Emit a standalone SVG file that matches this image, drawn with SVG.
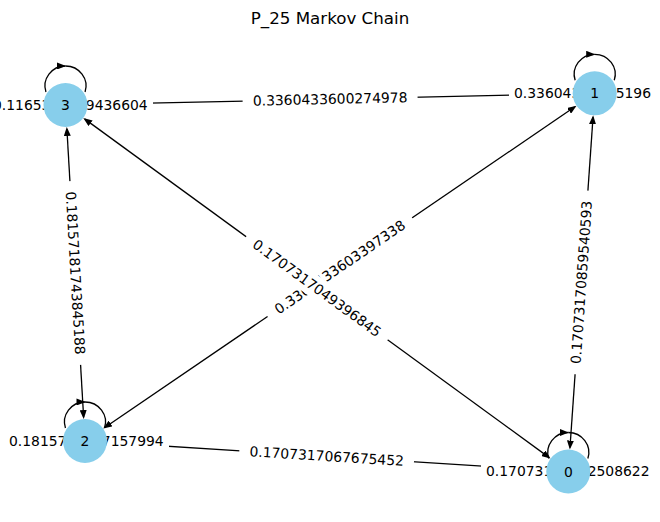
<svg xmlns="http://www.w3.org/2000/svg" width="660" height="522" viewBox="0 0 660 522">
<style>
.e{stroke:#000;stroke-width:1.3;fill:none}
.lb{fill:#fff;stroke:none}
text{font-family:"DejaVu Sans","Liberation Sans",sans-serif;font-size:13.9px;fill:#000}
.n circle{fill:#87CEEB}
.n text{text-anchor:middle}
.m text{text-anchor:middle}
</style>
<defs>
<marker id="a" viewBox="0 0 9 7" refX="7" refY="3.5" markerWidth="9" markerHeight="7" markerUnits="userSpaceOnUse" orient="auto-start-reverse"><path d="M0,0L9,3.5L0,7z" fill="#000"/></marker>
<marker id="al" viewBox="0 0 9 7" refX="8.5" refY="3.5" markerWidth="9" markerHeight="7" markerUnits="userSpaceOnUse" orient="auto"><path d="M0,0L9,3.5L0,7z" fill="#000"/></marker>
</defs>
<rect width="660" height="522" fill="#fff"/>
<text x="330" y="23.5" style="font-size:16.7px;text-anchor:middle">P_25 Markov Chain</text>
<g id="edges">
<path class="e" d="M89.49,104.47L570.71,93.83" marker-start="url(#a)" marker-end="url(#a)"/>
<path class="e" d="M66.89,128.96L83.61,417.04" marker-start="url(#a)" marker-end="url(#a)"/>
<path class="e" d="M84.89,119.14L548.91,457.36" marker-start="url(#a)" marker-end="url(#a)"/>
<path class="e" d="M574.87,106.82L104.83,427.48" marker-start="url(#a)" marker-end="url(#a)"/>
<path class="e" d="M593.03,117.24L569.97,447.56" marker-start="url(#a)" marker-end="url(#a)"/>
<path class="e" d="M108.95,442.51L544.35,469.99" marker-start="url(#a)" marker-end="url(#a)"/>
<path class="e" d="M45.94,92A20.5 20 0 0 1 65.5,66" marker-end="url(#al)"/>
<path class="e" d="M65.5,66A20.5 20 0 0 1 85.06,92"/>
<path class="e" d="M575.14,80.3A20.5 20 0 0 1 594.7,54.3" marker-end="url(#al)"/>
<path class="e" d="M594.7,54.3A20.5 20 0 0 1 614.26,80.3"/>
<path class="e" d="M65.44,428A20.5 20 0 0 1 85,402" marker-end="url(#al)"/>
<path class="e" d="M85,402A20.5 20 0 0 1 104.56,428"/>
<path class="e" d="M548.74,458.5A20.5 20 0 0 1 568.3,432.5" marker-end="url(#al)"/>
<path class="e" d="M568.3,432.5A20.5 20 0 0 1 587.86,458.5"/>
</g>
<g id="edge-labels" class="m">
<g transform="translate(330.1,99.15) rotate(-1.27)"><rect class="lb" x="-87.5" y="-11" width="175" height="22" rx="4"/><text x="0" y="4.8">0.3360433600274978</text></g>
<g transform="translate(75.25,273) rotate(86.68)"><rect class="lb" x="-92" y="-11" width="184" height="22" rx="4"/><text x="0" y="4.8">0.18157181743845188</text></g>
<g transform="translate(339.85,267.15) rotate(-34.30)"><rect class="lb" x="-87.5" y="-11" width="175" height="22" rx="4"/><text x="0" y="4.8">0.3360433603397338</text></g>
<g transform="translate(316.9,288.25) rotate(36.09)"><rect class="lb" x="-87.5" y="-11" width="175" height="22" rx="4"/><text x="0" y="4.8">0.1707317049396845</text></g>
<g transform="translate(581.5,282.4) rotate(-86.01)"><rect class="lb" x="-92" y="-11" width="184" height="22" rx="4"/><text x="0" y="4.8">0.17073170859540593</text></g>
<g transform="translate(326.65,456.25) rotate(3.61)"><rect class="lb" x="-87.5" y="-11" width="175" height="22" rx="4"/><text x="0" y="4.8">0.1707317067675452</text></g>
</g>
<g id="loop-labels">
<rect class="lb" x="-12" y="94" width="165" height="22" rx="4"/><text x="-7" y="109.8">0.1165311659436604</text>
<rect class="lb" x="509" y="82.3" width="147" height="22" rx="4"/><text x="514" y="98.1">0.33604336045196</text>
<rect class="lb" x="4" y="430" width="165" height="22" rx="4"/><text x="9" y="445.8">0.1815718157157994</text>
<rect class="lb" x="481" y="460.5" width="174" height="22" rx="4"/><text x="486" y="476.3">0.17073170732508622</text>
</g>
<g id="node-0" class="n"><circle cx="568.3" cy="471.5" r="22"/><text x="568.3" y="476.5">0</text></g>
<g id="node-1" class="n"><circle cx="594.7" cy="93.3" r="22"/><text x="594.7" y="98.3">1</text></g>
<g id="node-2" class="n"><circle cx="85" cy="441" r="22"/><text x="85" y="446">2</text></g>
<g id="node-3" class="n"><circle cx="65.5" cy="105" r="22"/><text x="65.5" y="110">3</text></g>
</svg>
